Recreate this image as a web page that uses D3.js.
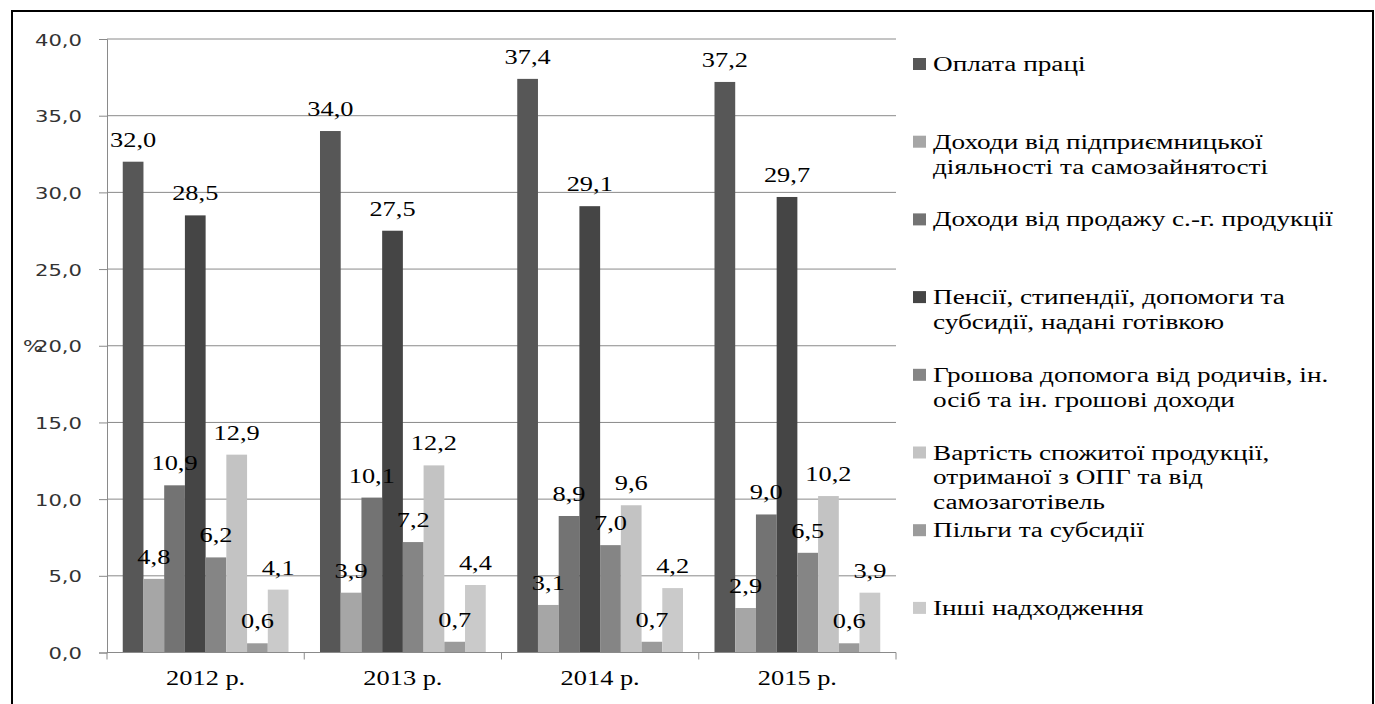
<!DOCTYPE html>
<html>
<head>
<meta charset="utf-8">
<script src="https://cdn.jsdelivr.net/npm/d3@7"></script>
<style>
  body { margin: 0; background: #fff; }
  .tick text { font-family: "DejaVu Sans", sans-serif; font-size: 16px; fill: #333; }
  .lbl { font-family: "Liberation Serif", serif; font-size: 20px; fill: #000; }
  .leg { font-family: "Liberation Serif", serif; font-size: 20px; fill: #000; }
</style>
</head>
<body>
<svg id="chart" width="1375" height="704"></svg>
<script>
var years = ["2012 р.", "2013 р.", "2014 р.", "2015 р."]

var seriesNames = [
  ["Оплата праці"],
  ["Доходи від підприємницької", "діяльності та самозайнятості"],
  ["Доходи від продажу с.-г. продукції"],
  ["Пенсії, стипендії, допомоги та", "субсидії, надані готівкою"],
  ["Грошова допомога від родичів, ін.", "осіб та ін. грошові доходи"],
  ["Вартість спожитої продукції,", "отриманої з ОПГ та від", "самозаготівель"],
  ["Пільги та субсидії"],
  ["Інші надходження"]
]
var seriesColors = ["#575757", "#a6a6a6", "#737373", "#454545", "#858585", "#c3c3c3", "#9b9b9b", "#cacaca"]

// one array per series, values for 2012..2015
var wages      = [32.0, 34.0, 37.4, 37.2]
var business   = [4.8, 3.9, 3.1, 2.9]
var farmSales  = [10.9, 10.1, 8.9, 9.0]
var pensions   = [28.5, 27.5, 29.1, 29.7]
var relatives  = [6.2, 7.2, 7.0, 6.5]
var ownProduce = [12.9, 12.2, 9.6, 10.2]
var benefits   = [0.6, 0.7, 0.7, 0.6]
var other      = [4.1, 4.4, 4.2, 3.9]
var seriesValues = [wages, business, farmSales, pensions, relatives, ownProduce, benefits, other]

var yTicks = [0, 5, 10, 15, 20, 25, 30, 35, 40]

function drawChart() {
  var svg = d3.select("#chart")
  var sx = 1.32  // the source picture is stretched sideways
  var fmt = function(v) { return d3.format(".1f")(v).replace(".", ",") }

  svg.append("rect")
     .attr("x", 12).attr("y", 11).attr("width", 1361).attr("height", 700)
     .attr("fill", "none").attr("stroke", "#000").attr("stroke-width", 2)

  var plotLeft = 107, plotRight = 896, plotTop = 39, plotBottom = 652.5

  var y = d3.scaleLinear().domain([0, 40]).range([plotBottom, plotTop])
  var x0 = d3.scaleBand().domain(d3.range(years.length)).range([plotLeft, plotRight])
  var x1 = d3.scaleBand().domain(d3.range(seriesValues.length))
             .range([0, x0.bandwidth()]).paddingOuter(0.76)

  // grid
  svg.append("g").selectAll("line").data(yTicks.slice(1)).join("line")
     .attr("x1", plotLeft).attr("x2", plotRight)
     .attr("y1", function(d) { return y(d) }).attr("y2", function(d) { return y(d) })
     .attr("stroke", "#8a8a8a").attr("stroke-width", 1)

  // y axis
  var yAxis = svg.append("g").attr("transform", "translate(" + plotLeft + ",0)")
     .call(d3.axisLeft(y).tickValues(yTicks).tickFormat(fmt).tickSize(8).tickPadding(0))
  yAxis.select(".domain").attr("stroke", "#8a8a8a")
  yAxis.selectAll(".tick line").attr("stroke", "#8a8a8a")
  yAxis.selectAll(".tick text")
     .attr("x", 0).attr("dy", null).attr("y", 6)
     .attr("transform", "translate(-25,0) scale(" + sx + ",1)")

  svg.append("text").text("%")
     .attr("transform", "translate(23,352) scale(" + sx + ",1)")
     .style("font-family", "DejaVu Sans, sans-serif").style("font-size", "16px").style("fill", "#333")

  // bars first, labels afterwards so they sit on top
  var cells = []
  years.forEach(function(yr, yi) {
    seriesValues.forEach(function(vals, si) {
      cells.push({ yi: yi, si: si, v: vals[yi] })
    })
  })
  var cx = function(d) { return x0(d.yi) + x1(d.si) }

  svg.append("g").selectAll("rect").data(cells).join("rect")
     .attr("x", cx).attr("width", x1.bandwidth())
     .attr("y", function(d) { return y(d.v) })
     .attr("height", function(d) { return plotBottom - y(d.v) })
     .attr("fill", function(d) { return seriesColors[d.si] })

  svg.append("g").selectAll("text").data(cells).join("text")
     .attr("class", "lbl").attr("text-anchor", "middle")
     .attr("transform", function(d) {
       return "translate(" + (cx(d) + x1.bandwidth() / 2) + "," + (y(d.v) - 15) + ") scale(" + sx + ",1)"
     })
     .text(function(d) { return fmt(d.v) })

  // x axis
  svg.append("line").attr("x1", plotLeft).attr("x2", plotRight)
     .attr("y1", plotBottom).attr("y2", plotBottom)
     .attr("stroke", "#8a8a8a")
  svg.append("g").selectAll("line").data(d3.range(years.length + 1)).join("line")
     .attr("x1", function(i) { return plotLeft + i * x0.step() })
     .attr("x2", function(i) { return plotLeft + i * x0.step() })
     .attr("y1", plotBottom).attr("y2", plotBottom + 7)
     .attr("stroke", "#8a8a8a")
  svg.append("g").selectAll("text").data(years).join("text")
     .attr("class", "lbl").attr("text-anchor", "middle")
     .attr("transform", function(d, i) { return "translate(" + (x0(i) + x0.bandwidth() / 2) + ",685) scale(" + sx + ",1)" })
     .text(function(d) { return d })

  // legend
  var leg = svg.append("g").selectAll("g").data(seriesNames).join("g")
     .attr("transform", function(d, i) { return "translate(913," + (71 + i * 77.7) + ")" })
  leg.append("rect").attr("x", 0).attr("y", -13).attr("width", 13).attr("height", 12)
     .attr("fill", function(d, i) { return seriesColors[i] })
  leg.append("text").attr("class", "leg")
     .attr("transform", "translate(20,0) scale(1.36,1)")
     .selectAll("tspan").data(function(d) { return d }).join("tspan")
     .attr("x", 0).attr("dy", function(d, i) { return i ? 25 : 0 })
     .text(function(d) { return d })
}
drawChart()
</script>
</body>
</html>
